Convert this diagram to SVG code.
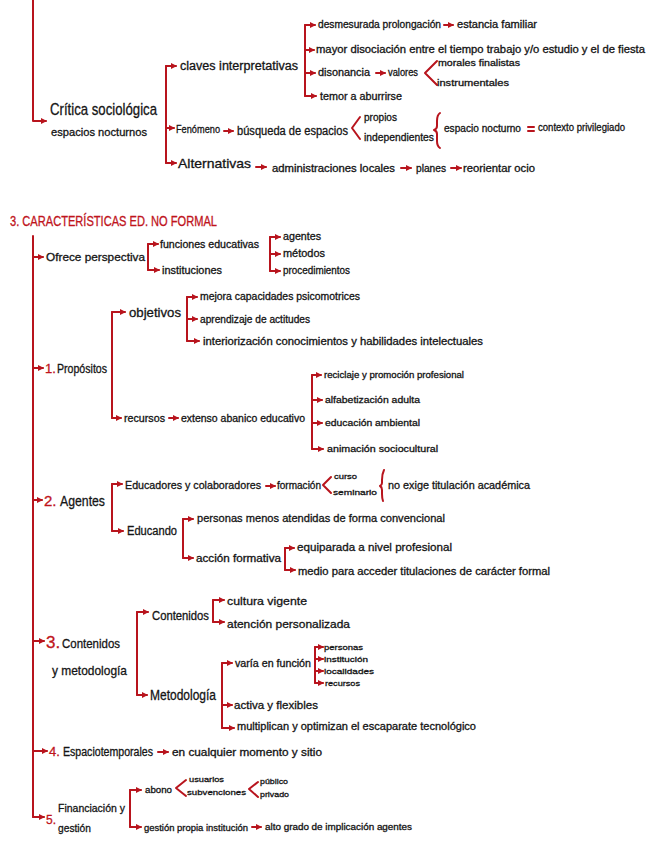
<svg xmlns="http://www.w3.org/2000/svg" width="656" height="848" viewBox="0 0 656 848">
<style>
text{font-family:"Liberation Sans","DejaVu Sans",sans-serif;fill:#151515;font-size:10px;stroke:#151515;stroke-width:0.3}
.r{fill:#c0141c;stroke:#c0141c}
.c line,.c path{stroke:#b8141d;stroke-width:2;fill:none;stroke-linecap:round;stroke-linejoin:round}
.s8{font-size:8px}.s9{font-size:9px}.s11{font-size:11px}.s12{font-size:12px}.s13{font-size:13px}.s14{font-size:14px}.s15{font-size:15px}.s17{font-size:17px}
</style>
<defs>
<marker id="a" viewBox="0 0 6 6" refX="5" refY="3" markerWidth="6" markerHeight="6" markerUnits="userSpaceOnUse" orient="auto"><path d="M0,0 L6,3 L0,6 z" fill="#b8141d"/></marker>
</defs>
<rect width="656" height="848" fill="#fff"/>
<g class="c" id="connectors">
<path d="M33,0 V121 H46" marker-end="url(#a)"/>
<line x1="166" y1="66" x2="166" y2="163"/>
<line x1="166" y1="66" x2="176" y2="66" marker-end="url(#a)"/>
<line x1="166" y1="128" x2="174" y2="128" marker-end="url(#a)"/>
<line x1="166" y1="163" x2="176" y2="163" marker-end="url(#a)"/>
<line x1="305" y1="25" x2="305" y2="96"/>
<line x1="305" y1="25" x2="315" y2="25" marker-end="url(#a)"/>
<line x1="305" y1="50" x2="314" y2="50" marker-end="url(#a)"/>
<line x1="305" y1="73" x2="315" y2="73" marker-end="url(#a)"/>
<line x1="305" y1="96" x2="316" y2="96" marker-end="url(#a)"/>
<line x1="444" y1="25" x2="453" y2="25" marker-end="url(#a)"/>
<line x1="376" y1="73" x2="385" y2="73" marker-end="url(#a)"/>
<path d="M437,61 L425,73 L437,85"/>
<line x1="224" y1="131" x2="233" y2="131" marker-end="url(#a)"/>
<path d="M360,117 L352,128 L360,139"/>
<path d="M440,113 Q437,115 437,121 L437,126 Q437,129 434,130 Q437,131 437,134 L437,141 Q437,146 440,148"/>
<line x1="528" y1="127" x2="534" y2="127"/>
<line x1="528" y1="131" x2="534" y2="131"/>
<line x1="256" y1="167" x2="266" y2="167" marker-end="url(#a)"/>
<line x1="401" y1="168" x2="411" y2="168" marker-end="url(#a)"/>
<line x1="451" y1="168" x2="461" y2="168" marker-end="url(#a)"/>
<line x1="33" y1="236" x2="33" y2="817"/>
<line x1="33" y1="257" x2="43" y2="257" marker-end="url(#a)"/>
<line x1="33" y1="368" x2="43" y2="368" marker-end="url(#a)"/>
<line x1="33" y1="500" x2="42" y2="500" marker-end="url(#a)"/>
<line x1="33" y1="641" x2="44" y2="641" marker-end="url(#a)"/>
<line x1="33" y1="751" x2="47" y2="751" marker-end="url(#a)"/>
<line x1="33" y1="817" x2="44" y2="817" marker-end="url(#a)"/>
<line x1="148" y1="244" x2="148" y2="270"/>
<line x1="148" y1="244" x2="158" y2="244" marker-end="url(#a)"/>
<line x1="148" y1="270" x2="159" y2="270" marker-end="url(#a)"/>
<line x1="270" y1="237" x2="270" y2="271"/>
<line x1="270" y1="237" x2="280" y2="237" marker-end="url(#a)"/>
<line x1="270" y1="254" x2="280" y2="254" marker-end="url(#a)"/>
<line x1="270" y1="271" x2="280" y2="271" marker-end="url(#a)"/>
<line x1="112" y1="312" x2="112" y2="418"/>
<line x1="112" y1="312" x2="125" y2="312" marker-end="url(#a)"/>
<line x1="112" y1="418" x2="121" y2="418" marker-end="url(#a)"/>
<line x1="169" y1="418" x2="178" y2="418" marker-end="url(#a)"/>
<line x1="187" y1="297" x2="187" y2="341"/>
<line x1="187" y1="297" x2="197" y2="297" marker-end="url(#a)"/>
<line x1="187" y1="319" x2="197" y2="319" marker-end="url(#a)"/>
<line x1="187" y1="341" x2="199" y2="341" marker-end="url(#a)"/>
<line x1="312" y1="375" x2="312" y2="449"/>
<line x1="312" y1="375" x2="321" y2="375" marker-end="url(#a)"/>
<line x1="312" y1="400" x2="322" y2="400" marker-end="url(#a)"/>
<line x1="312" y1="423" x2="322" y2="423" marker-end="url(#a)"/>
<line x1="312" y1="449" x2="323" y2="449" marker-end="url(#a)"/>
<line x1="112" y1="484" x2="112" y2="531"/>
<line x1="112" y1="484" x2="122" y2="484" marker-end="url(#a)"/>
<line x1="112" y1="531" x2="123" y2="531" marker-end="url(#a)"/>
<line x1="266" y1="486" x2="275" y2="486" marker-end="url(#a)"/>
<path d="M331,477 L323,485 L331,493"/>
<path d="M384,470 Q382,474 382,480 L382,483 Q382,485 380,486 Q382,487 382,490 L382,494 Q382,498 383,501"/>
<line x1="183" y1="519" x2="183" y2="558"/>
<line x1="183" y1="519" x2="193" y2="519" marker-end="url(#a)"/>
<line x1="183" y1="558" x2="193" y2="558" marker-end="url(#a)"/>
<line x1="285" y1="548" x2="285" y2="570"/>
<line x1="285" y1="548" x2="294" y2="548" marker-end="url(#a)"/>
<line x1="285" y1="570" x2="295" y2="570" marker-end="url(#a)"/>
<line x1="137" y1="612" x2="137" y2="695"/>
<line x1="137" y1="612" x2="148" y2="612" marker-end="url(#a)"/>
<line x1="137" y1="695" x2="147" y2="695" marker-end="url(#a)"/>
<line x1="213" y1="600" x2="213" y2="622"/>
<line x1="213" y1="600" x2="224" y2="600" marker-end="url(#a)"/>
<line x1="213" y1="622" x2="224" y2="622" marker-end="url(#a)"/>
<line x1="222" y1="663" x2="222" y2="728"/>
<line x1="222" y1="663" x2="232" y2="663" marker-end="url(#a)"/>
<line x1="222" y1="705" x2="232" y2="705" marker-end="url(#a)"/>
<line x1="222" y1="728" x2="234" y2="728" marker-end="url(#a)"/>
<line x1="315" y1="647" x2="315" y2="683"/>
<line x1="315" y1="647" x2="323" y2="647" marker-end="url(#a)"/>
<line x1="315" y1="659" x2="323" y2="659" marker-end="url(#a)"/>
<line x1="315" y1="671" x2="323" y2="671" marker-end="url(#a)"/>
<line x1="315" y1="683" x2="323" y2="683" marker-end="url(#a)"/>
<line x1="158" y1="752" x2="168" y2="752" marker-end="url(#a)"/>
<line x1="130" y1="790" x2="130" y2="827"/>
<line x1="130" y1="790" x2="141" y2="790" marker-end="url(#a)"/>
<line x1="130" y1="827" x2="141" y2="827" marker-end="url(#a)"/>
<path d="M186,780 L176,788 L186,796"/>
<path d="M258,782 L249,789 L258,797"/>
<line x1="252" y1="827" x2="261" y2="827" marker-end="url(#a)"/>
</g>

<g id="critica"><text x="50" y="115" class="s17" textLength="107" lengthAdjust="spacingAndGlyphs">Crítica sociológica</text><text x="51" y="136" class="s11" textLength="96" lengthAdjust="spacingAndGlyphs">espacios nocturnos</text></g>
<g id="claves"><text x="180" y="70" class="s12" textLength="118" lengthAdjust="spacingAndGlyphs">claves interpretativas</text></g>
<g id="desmesurada"><text x="318" y="28" textLength="123" lengthAdjust="spacingAndGlyphs">desmesurada prolongación</text></g>
<g id="estancia"><text x="457" y="28" textLength="80" lengthAdjust="spacingAndGlyphs">estancia familiar</text></g>
<g id="mayor"><text x="316" y="53" textLength="329" lengthAdjust="spacingAndGlyphs">mayor disociación entre el tiempo trabajo y/o estudio y el de fiesta</text></g>
<g id="disonancia"><text x="318" y="76" textLength="52" lengthAdjust="spacingAndGlyphs">disonancia</text></g>
<g id="valores"><text x="388" y="76" textLength="30" lengthAdjust="spacingAndGlyphs">valores</text></g>
<g id="morales"><text x="438" y="66" class="s9" textLength="82" lengthAdjust="spacingAndGlyphs">morales finalistas</text></g>
<g id="instrumentales"><text x="437" y="86" class="s9" textLength="72" lengthAdjust="spacingAndGlyphs">instrumentales</text></g>
<g id="temor"><text x="320" y="100" textLength="82" lengthAdjust="spacingAndGlyphs">temor a aburrirse</text></g>
<g id="fenomeno"><text x="176" y="133" class="s11" textLength="44" lengthAdjust="spacingAndGlyphs">Fenómeno</text></g>
<g id="busqueda"><text x="237" y="135" class="s12" textLength="111" lengthAdjust="spacingAndGlyphs">búsqueda de espacios</text></g>
<g id="propios"><text x="364" y="121" textLength="33" lengthAdjust="spacingAndGlyphs">propios</text></g>
<g id="independientes"><text x="364" y="141" textLength="70" lengthAdjust="spacingAndGlyphs">independientes</text></g>
<g id="espacio"><text x="444" y="132" textLength="77" lengthAdjust="spacingAndGlyphs">espacio nocturno</text></g>
<g id="contexto"><text x="538" y="131" textLength="87" lengthAdjust="spacingAndGlyphs">contexto privilegiado</text></g>
<g id="alternativas"><text x="178" y="168" class="s13" textLength="73" lengthAdjust="spacingAndGlyphs">Alternativas</text></g>
<g id="administraciones"><text x="272" y="172" textLength="123" lengthAdjust="spacingAndGlyphs">administraciones locales</text></g>
<g id="planes"><text x="416" y="172" textLength="30" lengthAdjust="spacingAndGlyphs">planes</text></g>
<g id="reorientar"><text x="463" y="172" textLength="72" lengthAdjust="spacingAndGlyphs">reorientar ocio</text></g>

<g id="titulo"><text x="10" y="226" class="r s14" textLength="207" lengthAdjust="spacingAndGlyphs">3. CARACTERÍSTICAS ED. NO FORMAL</text></g>

<g id="ofrece"><text x="46" y="261" class="s11" textLength="99" lengthAdjust="spacingAndGlyphs">Ofrece perspectiva</text></g>
<g id="funciones"><text x="160" y="248" textLength="99" lengthAdjust="spacingAndGlyphs">funciones educativas</text></g>
<g id="instituciones"><text x="162" y="274" textLength="60" lengthAdjust="spacingAndGlyphs">instituciones</text></g>
<g id="agentes-o"><text x="283" y="240" textLength="38" lengthAdjust="spacingAndGlyphs">agentes</text></g>
<g id="metodos"><text x="283" y="257" textLength="42" lengthAdjust="spacingAndGlyphs">métodos</text></g>
<g id="procedimientos"><text x="283" y="274" textLength="67" lengthAdjust="spacingAndGlyphs">procedimientos</text></g>

<g id="propositos"><text x="45" y="373" class="r s13">1.</text><text x="57" y="373" class="s12" textLength="50" lengthAdjust="spacingAndGlyphs">Propósitos</text></g>
<g id="objetivos"><text x="129" y="317" class="s13" textLength="52" lengthAdjust="spacingAndGlyphs">objetivos</text></g>
<g id="mejora"><text x="200" y="300" textLength="160" lengthAdjust="spacingAndGlyphs">mejora capacidades psicomotrices</text></g>
<g id="aprendizaje"><text x="200" y="323" textLength="110" lengthAdjust="spacingAndGlyphs">aprendizaje de actitudes</text></g>
<g id="interiorizacion"><text x="203" y="345" textLength="280" lengthAdjust="spacingAndGlyphs">interiorización conocimientos y habilidades intelectuales</text></g>
<g id="recursos"><text x="124" y="422" textLength="41" lengthAdjust="spacingAndGlyphs">recursos</text></g>
<g id="extenso"><text x="181" y="422" textLength="124" lengthAdjust="spacingAndGlyphs">extenso abanico educativo</text></g>
<g id="reciclaje"><text x="324" y="378" class="s9" textLength="140" lengthAdjust="spacingAndGlyphs">reciclaje y promoción profesional</text></g>
<g id="alfabetizacion"><text x="325" y="403" class="s9" textLength="95" lengthAdjust="spacingAndGlyphs">alfabetización adulta</text></g>
<g id="educacion"><text x="325" y="426" class="s9" textLength="95" lengthAdjust="spacingAndGlyphs">educación ambiental</text></g>
<g id="animacion"><text x="327" y="452" class="s9" textLength="111" lengthAdjust="spacingAndGlyphs">animación sociocultural</text></g>

<g id="agentes"><text x="44" y="506" class="r s15">2.</text><text x="60" y="506" class="s15" textLength="45" lengthAdjust="spacingAndGlyphs">Agentes</text></g>
<g id="educadores"><text x="125" y="489" class="s11" textLength="136" lengthAdjust="spacingAndGlyphs">Educadores y colaboradores</text></g>
<g id="formacion"><text x="277" y="489" textLength="44" lengthAdjust="spacingAndGlyphs">formación</text></g>
<g id="curso"><text x="334" y="479" class="s8" textLength="23" lengthAdjust="spacingAndGlyphs">curso</text></g>
<g id="seminario"><text x="333" y="495" class="s8" textLength="44" lengthAdjust="spacingAndGlyphs">seminario</text></g>
<g id="noexige"><text x="388" y="489" class="s11" textLength="142" lengthAdjust="spacingAndGlyphs">no exige titulación académica</text></g>
<g id="educando"><text x="127" y="535" class="s12" textLength="50" lengthAdjust="spacingAndGlyphs">Educando</text></g>
<g id="personas"><text x="197" y="522" class="s11" textLength="248" lengthAdjust="spacingAndGlyphs">personas menos atendidas de forma convencional</text></g>
<g id="accion"><text x="196" y="562" textLength="85" lengthAdjust="spacingAndGlyphs">acción formativa</text></g>
<g id="equiparada"><text x="297" y="551" class="s11" textLength="155" lengthAdjust="spacingAndGlyphs">equiparada a nivel profesional</text></g>
<g id="medio"><text x="298" y="575" textLength="252" lengthAdjust="spacingAndGlyphs">medio para acceder titulaciones de carácter formal</text></g>

<g id="contenidos-met"><text x="46" y="648" class="r s17">3.</text><text x="62" y="648" class="s13" textLength="58" lengthAdjust="spacingAndGlyphs">Contenidos</text><text x="52" y="675" class="s13" textLength="75" lengthAdjust="spacingAndGlyphs">y metodología</text></g>
<g id="contenidos"><text x="152" y="620" class="s12" textLength="57" lengthAdjust="spacingAndGlyphs">Contenidos</text></g>
<g id="cultura"><text x="227" y="605" class="s11" textLength="80" lengthAdjust="spacingAndGlyphs">cultura vigente</text></g>
<g id="atencion"><text x="227" y="628" class="s11" textLength="123" lengthAdjust="spacingAndGlyphs">atención personalizada</text></g>
<g id="metodologia"><text x="150" y="700" class="s14" textLength="66" lengthAdjust="spacingAndGlyphs">Metodología</text></g>
<g id="varia"><text x="235" y="667" textLength="76" lengthAdjust="spacingAndGlyphs">varía en función</text></g>
<g id="v-personas"><text x="324" y="650" class="s8" textLength="39" lengthAdjust="spacingAndGlyphs">personas</text></g>
<g id="v-institucion"><text x="324" y="662" class="s8" textLength="44" lengthAdjust="spacingAndGlyphs">institución</text></g>
<g id="v-localidades"><text x="324" y="674" class="s8" textLength="50" lengthAdjust="spacingAndGlyphs">localidades</text></g>
<g id="v-recursos"><text x="325" y="686" class="s8" textLength="35" lengthAdjust="spacingAndGlyphs">recursos</text></g>
<g id="activa"><text x="234" y="709" class="s11" textLength="84" lengthAdjust="spacingAndGlyphs">activa y flexibles</text></g>
<g id="multiplican"><text x="237" y="730" textLength="239" lengthAdjust="spacingAndGlyphs">multiplican y optimizan el escaparate tecnológico</text></g>

<g id="espaciotemporales"><text x="49" y="756" class="r s13">4.</text><text x="63" y="756" class="s12" textLength="90" lengthAdjust="spacingAndGlyphs">Espaciotemporales</text></g>
<g id="cualquier"><text x="172" y="756" textLength="150" lengthAdjust="spacingAndGlyphs">en cualquier momento y sitio</text></g>

<g id="financiacion"><text x="46" y="824" class="r s12">5.</text><text x="58" y="812" class="s11" textLength="67" lengthAdjust="spacingAndGlyphs">Financiación y</text><text x="58" y="832" class="s11" textLength="33" lengthAdjust="spacingAndGlyphs">gestión</text></g>
<g id="abono"><text x="145" y="793" class="s9" textLength="27" lengthAdjust="spacingAndGlyphs">abono</text></g>
<g id="usuarios"><text x="189" y="782" class="s8" textLength="35" lengthAdjust="spacingAndGlyphs">usuarios</text></g>
<g id="subvenciones"><text x="187" y="795" class="s8" textLength="59" lengthAdjust="spacingAndGlyphs">subvenciones</text></g>
<g id="publico"><text x="260" y="784" class="s8" textLength="28" lengthAdjust="spacingAndGlyphs">público</text></g>
<g id="privado"><text x="260" y="797" class="s8" textLength="29" lengthAdjust="spacingAndGlyphs">privado</text></g>
<g id="gestion"><text x="144" y="831" class="s9" textLength="104" lengthAdjust="spacingAndGlyphs">gestión propia institución</text></g>
<g id="alto"><text x="265" y="830" class="s9" textLength="147" lengthAdjust="spacingAndGlyphs">alto grado de implicación agentes</text></g>
</svg>
